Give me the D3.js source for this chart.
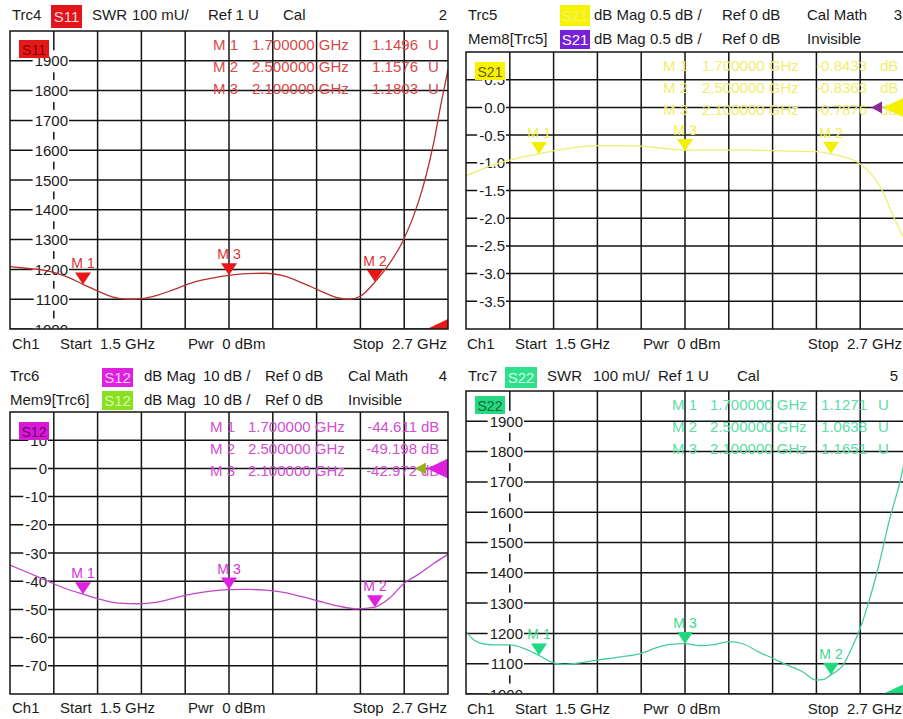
<!DOCTYPE html>
<html><head><meta charset="utf-8">
<script src="https://cdn.jsdelivr.net/npm/d3@7"></script>
<style>
body{margin:0;background:#fff}
svg{display:block;font-family:"Liberation Sans",Arial,sans-serif}
text{white-space:pre}
</style>
</head><body>
<svg id="c" width="903" height="719"></svg>
<script>
// ---------------- DATA ----------------
const freqDomain = [1.5, 2.7];           // GHz, Start / Stop
const freqDivisions = 10;

// Trc4 S11 SWR (mU)
const s11Freq = [1.50,1.55,1.60,1.65,1.70,1.74,1.78,1.82,1.86,1.90,1.95,2.00,2.05,2.10,2.15,2.20,2.25,2.30,2.35,2.40,2.43,2.46,2.50,2.54,2.58,2.62,2.64,2.66,2.68,2.70];
const s11Swr  = [1209,1203,1196,1178,1150,1128,1108,1100,1102,1112,1133,1156,1170,1180,1186,1187,1178,1155,1128,1104,1100,1110,1158,1220,1304,1430,1515,1620,1750,1870];

// Trc5 S21 dB Mag
const s21Freq = [1.50,1.55,1.60,1.65,1.70,1.75,1.80,1.86,1.92,1.98,2.04,2.10,2.16,2.22,2.28,2.34,2.40,2.46,2.50,2.54,2.58,2.61,2.64,2.67,2.70];
const s21Db   = [-1.23,-1.10,-0.99,-0.90,-0.84,-0.77,-0.72,-0.69,-0.69,-0.70,-0.74,-0.77,-0.77,-0.77,-0.77,-0.78,-0.79,-0.80,-0.84,-0.90,-1.02,-1.20,-1.50,-1.95,-2.37];

// Trc6 S12 dB Mag
const s12Freq = [1.50,1.55,1.60,1.65,1.70,1.75,1.80,1.85,1.90,1.95,2.00,2.05,2.10,2.15,2.20,2.25,2.30,2.35,2.40,2.45,2.50,2.54,2.58,2.62,2.66,2.70];
const s12Db   = [-34.3,-37.0,-39.8,-42.5,-44.6,-46.5,-47.8,-48.0,-47.5,-46.0,-44.5,-43.5,-43.0,-42.9,-43.2,-44.0,-45.5,-47.2,-48.8,-49.8,-49.2,-46.0,-40.7,-37.5,-33.8,-30.5];

// Trc7 S22 SWR (mU)
const s22Freq = [1.50,1.52,1.55,1.58,1.62,1.66,1.70,1.74,1.77,1.80,1.86,1.92,1.98,2.02,2.06,2.10,2.14,2.18,2.22,2.26,2.30,2.34,2.38,2.42,2.46,2.48,2.50,2.53,2.56,2.58,2.60,2.63,2.66,2.69,2.70];
const s22Swr  = [1206,1180,1165,1162,1162,1150,1127,1103,1098,1101,1112,1122,1134,1152,1164,1166,1160,1163,1173,1165,1140,1118,1095,1075,1046,1048,1064,1090,1160,1217,1290,1420,1574,1706,1760];

// Markers M1, M2, M3
const markerNames = ["M 1","M 2","M 3"];
const markerFreq  = [1.7, 2.5, 2.1];
const markerFreqText = ["1.700000 GHz","2.500000 GHz","2.100000 GHz"];
const s11Markers = [1149.6, 1157.6, 1180.3];
const s11MarkerText = ["1.1496","1.1576","1.1803"];
const s21Markers = [-0.8433, -0.8363, -0.7876];
const s21MarkerText = ["-0.8433","-0.8363","-0.7876"];
const s12Markers = [-44.611, -49.198, -42.972];
const s12MarkerText = ["-44.611","-49.198","-42.972"];
const s22Markers = [1127.1, 1063.8, 1165.1];
const s22MarkerText = ["1.1271","1.0638","1.1651"];

// Y tick labels
const swrTicks = [1900,1800,1700,1600,1500,1400,1300,1200,1100,1000];
const swrTickLabels = ["1900","1800","1700","1600","1500","1400","1300","1200","1100","1000"];
const s21Ticks = [0.5,0,-0.5,-1,-1.5,-2,-2.5,-3,-3.5];
const s21TickLabels = ["0.5","0.0","-0.5","-1.0","-1.5","-2.0","-2.5","-3.0","-3.5"];
const s12Ticks = [10,0,-10,-20,-30,-40,-50,-60,-70];
const s12TickLabels = ["10","0","-10","-20","-30","-40","-50","-60","-70"];

// ---------------- LAYOUT ----------------
const svg = d3.select("#c");
const panels = [
  {id:"p1", x0:10, x1:448, y0:31, y1:329, yDomain:[1000,2000], ref:1000,
   freq:s11Freq, vals:s11Swr, mk:s11Markers, mkText:s11MarkerText, unit:"U",
   ticks:swrTicks, tickLabels:swrTickLabels, labelRight:58, labelBoxH:22,
   curve:"#b8302c", mark:"#e81818", mkLabel:"#e03030", readout:"#d84848",
   inner:{t:"S11", fill:"#e41818", color:"#8a0000", dy:9},
   ro:{name:-235, freq:-196, valEnd:-30, unit:-20, y:14},
   refArrow:"#e81818", refArrow2:null},
  {id:"p2", x0:466, x1:904, y0:52, y1:329, yDomain:[-4,1], ref:0,
   freq:s21Freq, vals:s21Db, mk:s21Markers, mkText:s21MarkerText, unit:"dB",
   ticks:s21Ticks, tickLabels:s21TickLabels, labelRight:39, labelBoxH:16,
   curve:"#eeee70", mark:"#f2f000", mkLabel:"#f0f050", readout:"#f0ee70",
   inner:{t:"S21", fill:"#f8f400", color:"#6a5a00", dy:10},
   ro:{name:-241, freq:-202, valEnd:-37, unit:-24, y:14},
   refArrow:"#f4f000", refArrow2:"#8a2a9a"},
  {id:"p3", x0:10, x1:448, y0:412, y1:694, yDomain:[-80,20], ref:0,
   freq:s12Freq, vals:s12Db, mk:s12Markers, mkText:s12MarkerText, unit:"dB",
   ticks:s12Ticks, tickLabels:s12TickLabels, labelRight:37, labelBoxH:16,
   curve:"#c048c8", mark:"#e020e0", mkLabel:"#d830d8", readout:"#d050d0",
   inner:{t:"S12", fill:"#d818d8", color:"#6a006a", dy:10},
   ro:{name:-238, freq:-200, valEnd:-31, unit:-27, y:15},
   refArrow:"#e020e0", refArrow2:"#9ab020"},
  {id:"p4", x0:466, x1:904, y0:391, y1:694, yDomain:[1000,2000], ref:1000,
   freq:s22Freq, vals:s22Swr, mk:s22Markers, mkText:s22MarkerText, unit:"U",
   ticks:swrTicks, tickLabels:swrTickLabels, labelRight:57, labelBoxH:22,
   curve:"#48cc98", mark:"#20d880", mkLabel:"#40d890", readout:"#60dca8",
   inner:{t:"S22", fill:"#28d880", color:"#086a3a", dy:5},
   ro:{name:-232, freq:-194, valEnd:-37, unit:-26, y:14},
   refArrow:"#20d880", refArrow2:null}
];

const defs = svg.append("defs");

panels.forEach(p => {
  const x = d3.scaleLinear().domain(freqDomain).range([p.x0, p.x1]);
  const y = d3.scaleLinear().domain(p.yDomain).range([p.y1, p.y0]);
  defs.append("clipPath").attr("id","clip-"+p.id).append("rect")
    .attr("x",p.x0).attr("y",p.y0).attr("width",p.x1-p.x0).attr("height",p.y1-p.y0);
  const g = svg.append("g");
  const gc = svg.append("g").attr("clip-path","url(#clip-"+p.id+")");

  // vertical grid
  const step = (freqDomain[1]-freqDomain[0])/freqDivisions;
  const xs = d3.range(1,freqDivisions).map(i => freqDomain[0]+i*step);
  gc.selectAll(null).data(xs).join("line")
    .attr("x1",d=>x(d)).attr("x2",d=>x(d)).attr("y1",p.y0).attr("y2",p.y1)
    .attr("stroke","#141414").attr("stroke-width",1.5);
  // horizontal grid
  gc.selectAll(null).data(p.ticks).join("line")
    .attr("x1",p.x0).attr("x2",p.x1).attr("y1",d=>y(d)).attr("y2",d=>y(d))
    .attr("stroke","#141414").attr("stroke-width",1.5);

  // y labels
  const lab = gc.selectAll(null).data(p.ticks).join("g");
  lab.append("text")
    .attr("x",p.x0+p.labelRight).attr("y",d=>y(d)+5.5)
    .attr("text-anchor","end").attr("font-size",15).attr("fill","#1a1a1a")
    .text((d,i)=>p.tickLabels[i]);
  lab.each(function(){
    const t = d3.select(this).select("text");
    const b = t.node().getBBox();
    d3.select(this).insert("rect","text")
      .attr("x",b.x-2).attr("y",b.y+b.height/2-p.labelBoxH/2+0.5)
      .attr("width",b.width+3).attr("height",p.labelBoxH).attr("fill","#fff");
  });

  // trace
  const pts = p.freq.map((f,i)=>[f,p.vals[i]]);
  gc.append("path").datum(pts)
    .attr("d", d3.line().x(d=>x(d[0])).y(d=>y(d[1])).curve(d3.curveMonotoneX))
    .attr("fill","none").attr("stroke",p.curve).attr("stroke-width",1.3);

  // markers
  markerFreq.forEach((f,i)=>{
    const mx = x(f), my = y(p.mk[i]);
    gc.append("path")
      .attr("d",`M${mx-8},${my-12}L${mx+8},${my-12}L${mx},${my}Z`)
      .attr("fill",p.mark);
    gc.append("text").attr("x",mx).attr("y",my-16)
      .attr("text-anchor","middle").attr("font-size",14).attr("fill",p.mkLabel)
      .text(markerNames[i]);
  });

  // marker readouts
  markerNames.forEach((n,i)=>{
    const yy = p.y0 + p.ro.y + i*22 + 5;
    gc.append("text").attr("x",p.x1+p.ro.name).attr("y",yy).attr("font-size",15)
      .attr("fill",p.readout).text(n);
    gc.append("text").attr("x",p.x1+p.ro.freq).attr("y",yy).attr("font-size",15)
      .attr("fill",p.readout).text(markerFreqText[i]);
    gc.append("text").attr("x",p.x1+p.ro.valEnd).attr("y",yy).attr("font-size",15)
      .attr("text-anchor","end").attr("fill",p.readout).text(p.mkText[i]);
    gc.append("text").attr("x",p.x1+p.ro.unit).attr("y",yy).attr("font-size",15)
      .attr("fill",p.readout).text(p.unit);
  });

  // reference arrow(s) at the right edge
  const ry = y(p.ref);
  if (p.refArrow2) {
    gc.append("path").attr("d",`M${p.x1-33},${ry}L${p.x1-22},${ry-6}L${p.x1-22},${ry+6}Z`)
      .attr("fill",p.refArrow2);
  }
  gc.append("path").attr("d",`M${p.x1-21},${ry}L${p.x1},${ry-10}L${p.x1},${ry+10}Z`)
    .attr("fill",p.refArrow);

  // inner trace label box
  const ib = gc.append("g");
  ib.append("rect").attr("x",p.x0+9).attr("y",p.y0+p.inner.dy).attr("width",30).attr("height",18)
    .attr("fill",p.inner.fill);
  ib.append("text").attr("x",p.x0+24).attr("y",p.y0+p.inner.dy+14.5).attr("text-anchor","middle")
    .attr("font-size",14).attr("fill",p.inner.color).text(p.inner.t);

  // frame
  g.append("rect").attr("x",p.x0).attr("y",p.y0).attr("width",p.x1-p.x0).attr("height",p.y1-p.y0)
    .attr("fill","none").attr("stroke","#141414").attr("stroke-width",1.5);
  svg.node().appendChild(g.node());
});

// ---------------- HEADERS / FOOTERS ----------------
function txt(x,y,s,anchor,color){
  svg.append("text").attr("x",x).attr("y",y).attr("font-size",15)
    .attr("text-anchor",anchor||"start").attr("fill",color||"#1a1a1a").text(s);
}
function box(x,y,w,h,fill,label,color){
  svg.append("rect").attr("x",x).attr("y",y).attr("width",w).attr("height",h).attr("fill",fill);
  svg.append("text").attr("x",x+w/2).attr("y",y+h/2+5.5).attr("text-anchor","middle")
    .attr("font-size",15).attr("fill",color).text(label);
}

// Panel 1 header
txt(12,20,"Trc4"); box(51,5,31,23,"#e2151b","S11","#ffd8d8");
txt(92,20,"SWR"); txt(132,20,"100 mU/"); txt(208,20,"Ref 1 U"); txt(283,20,"Cal"); txt(447,20,"2","end");
// Panel 2 header
txt(468,20,"Trc5"); box(560,5,30,21,"#f8f400","S21","#f4f080");
txt(594,20,"dB Mag"); txt(650,20,"0.5 dB /"); txt(722,20,"Ref 0 dB"); txt(807,20,"Cal Math"); txt(902,20,"3","end");
txt(468,44,"Mem8[Trc5]"); box(560,30,30,19,"#7820d8","S21","#ffffff");
txt(594,44,"dB Mag"); txt(650,44,"0.5 dB /"); txt(722,44,"Ref 0 dB"); txt(807,44,"Invisible");
// Panel 3 header
txt(10,381,"Trc6"); box(102,368,31,19,"#e020e0","S12","#ffd0ff");
txt(144,381,"dB Mag"); txt(203,381,"10 dB /"); txt(265,381,"Ref 0 dB"); txt(348,381,"Cal Math"); txt(447,381,"4","end");
txt(10,405,"Mem9[Trc6]"); box(102,391,31,19,"#88e020","S12","#d8ffb0");
txt(144,405,"dB Mag"); txt(203,405,"10 dB /"); txt(265,405,"Ref 0 dB"); txt(348,405,"Invisible");
// Panel 4 header
txt(468,381,"Trc7"); box(505,367,32,21,"#2ee08a","S22","#d0ffe8");
txt(547,381,"SWR"); txt(593,381,"100 mU/"); txt(658,381,"Ref 1 U"); txt(737,381,"Cal"); txt(898,381,"5","end");

// Footers
[[12,349],[467,349],[12,713],[467,714]].forEach(([fx,fy],i)=>{
  txt(fx,fy,"Ch1");
  txt(fx+48,fy,"Start  1.5 GHz");
  txt(fx+176,fy,"Pwr  0 dBm");
  txt(i%2===0?447:902,fy,"Stop  2.7 GHz","end");
});
</script>
</body></html>
